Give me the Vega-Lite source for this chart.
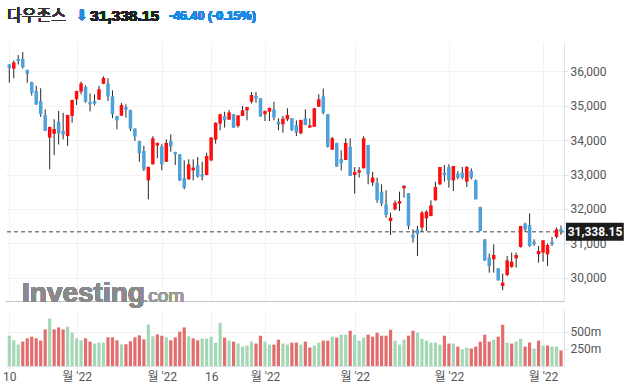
{
  "$schema": "https://vega.github.io/schema/vega-lite/v6.json",
  "background": "#ffffff",
  "padding": {"left": 2, "top": 7, "right": 0, "bottom": 0},
  "spacing": 0,
  "datasets": {
    "d": [
      {"i":0,"o":36190,"h":36200,"l":35660,"c":36090,"v":443,"vd":"u"},
      {"i":1,"o":36068,"h":36310,"l":35790,"c":36250,"v":376,"vd":"u"},
      {"i":2,"o":36350,"h":36460,"l":36190,"c":36290,"v":313,"vd":"u"},
      {"i":3,"o":36350,"h":36550,"l":36070,"c":36115,"v":356,"vd":"d"},
      {"i":4,"o":36030,"h":36040,"l":35660,"c":35920,"v":405,"vd":"d"},
      {"i":5,"o":35680,"h":35690,"l":35290,"c":35370,"v":429,"vd":"d"},
      {"i":6,"o":35420,"h":35570,"l":35020,"c":35030,"v":405,"vd":"d"},
      {"i":7,"o":35130,"h":35500,"l":34670,"c":34745,"v":371,"vd":"d"},
      {"i":8,"o":34725,"h":34890,"l":34260,"c":34265,"v":535,"vd":"d"},
      {"i":9,"o":34068,"h":34390,"l":33150,"c":34377,"v":694,"vd":"u"},
      {"i":10,"o":34180,"h":34600,"l":33560,"c":34320,"v":535,"vd":"d"},
      {"i":11,"o":34530,"h":34840,"l":33870,"c":34190,"v":564,"vd":"d"},
      {"i":12,"o":34260,"h":34790,"l":34020,"c":34165,"v":535,"vd":"d"},
      {"i":13,"o":34115,"h":34735,"l":33830,"c":34725,"v":573,"vd":"u"},
      {"i":14,"o":34700,"h":35170,"l":34500,"c":35160,"v":487,"vd":"u"},
      {"i":15,"o":35180,"h":35430,"l":35015,"c":35420,"v":405,"vd":"u"},
      {"i":16,"o":35400,"h":35690,"l":35325,"c":35640,"v":376,"vd":"u"},
      {"i":17,"o":35535,"h":35585,"l":35080,"c":35110,"v":405,"vd":"d"},
      {"i":18,"o":35100,"h":35350,"l":34830,"c":35035,"v":356,"vd":"d"},
      {"i":19,"o":35130,"h":35320,"l":35005,"c":35050,"v":328,"vd":"u"},
      {"i":20,"o":35170,"h":35565,"l":35160,"c":35470,"v":342,"vd":"u"},
      {"i":21,"o":35630,"h":35845,"l":35620,"c":35800,"v":342,"vd":"u"},
      {"i":22,"o":35640,"h":35790,"l":35130,"c":35265,"v":419,"vd":"d"},
      {"i":23,"o":35265,"h":35440,"l":34630,"c":34745,"v":419,"vd":"d"},
      {"i":24,"o":34695,"h":34700,"l":34310,"c":34570,"v":376,"vd":"d"},
      {"i":25,"o":34705,"h":35075,"l":34700,"c":35015,"v":318,"vd":"u"},
      {"i":26,"o":34955,"h":35035,"l":34650,"c":34880,"v":318,"vd":"d"},
      {"i":27,"o":34870,"h":34880,"l":34260,"c":34330,"v":361,"vd":"d"},
      {"i":28,"o":34330,"h":34340,"l":33970,"c":34100,"v":419,"vd":"d"},
      {"i":29,"o":33970,"h":33980,"l":33370,"c":33615,"v":448,"vd":"d"},
      {"i":30,"o":33680,"h":33830,"l":33100,"c":33150,"v":390,"vd":"d"},
      {"i":31,"o":32830,"h":33230,"l":32280,"c":33220,"v":607,"vd":"u"},
      {"i":32,"o":33295,"h":34110,"l":33290,"c":34050,"v":434,"vd":"u"},
      {"i":33,"o":33840,"h":33925,"l":33470,"c":33915,"v":462,"vd":"d"},
      {"i":34,"o":33815,"h":33875,"l":33120,"c":33295,"v":443,"vd":"d"},
      {"i":35,"o":33370,"h":34020,"l":33360,"c":33915,"v":419,"vd":"u"},
      {"i":36,"o":33970,"h":34165,"l":33660,"c":33810,"v":376,"vd":"d"},
      {"i":37,"o":33650,"h":33660,"l":33275,"c":33585,"v":419,"vd":"d"},
      {"i":38,"o":33585,"h":33590,"l":32810,"c":32830,"v":501,"vd":"d"},
      {"i":39,"o":32890,"h":33410,"l":32570,"c":32620,"v":564,"vd":"d"},
      {"i":40,"o":32860,"h":33440,"l":32850,"c":33295,"v":434,"vd":"u"},
      {"i":41,"o":33120,"h":33440,"l":32830,"c":33200,"v":405,"vd":"d"},
      {"i":42,"o":33265,"h":33510,"l":32910,"c":32940,"v":376,"vd":"d"},
      {"i":43,"o":33005,"h":33372,"l":32831,"c":32938,"v":400,"vd":"u"},
      {"i":44,"o":32985,"h":33630,"l":32975,"c":33535,"v":400,"vd":"u"},
      {"i":45,"o":33410,"h":34080,"l":33390,"c":34070,"v":429,"vd":"u"},
      {"i":46,"o":34010,"h":34510,"l":33895,"c":34500,"v":342,"vd":"u"},
      {"i":47,"o":34475,"h":34760,"l":34280,"c":34745,"v":631,"vd":"u"},
      {"i":48,"o":34695,"h":34820,"l":34360,"c":34570,"v":414,"vd":"d"},
      {"i":49,"o":34590,"h":34870,"l":34580,"c":34800,"v":371,"vd":"u"},
      {"i":50,"o":34745,"h":34750,"l":34350,"c":34360,"v":356,"vd":"d"},
      {"i":51,"o":34405,"h":34720,"l":34360,"c":34715,"v":328,"vd":"u"},
      {"i":52,"o":34695,"h":34985,"l":34690,"c":34860,"v":284,"vd":"u"},
      {"i":53,"o":34860,"h":34965,"l":34570,"c":34955,"v":299,"vd":"u"},
      {"i":54,"o":35110,"h":35390,"l":35060,"c":35305,"v":356,"vd":"u"},
      {"i":55,"o":35275,"h":35390,"l":35080,"c":35200,"v":328,"vd":"d"},
      {"i":56,"o":35210,"h":35215,"l":34670,"c":34680,"v":443,"vd":"d"},
      {"i":57,"o":34745,"h":34850,"l":34550,"c":34840,"v":356,"vd":"u"},
      {"i":58,"o":34820,"h":34940,"l":34550,"c":34930,"v":313,"vd":"u"},
      {"i":59,"o":34890,"h":35110,"l":34570,"c":34650,"v":313,"vd":"d"},
      {"i":60,"o":34530,"h":34630,"l":34280,"c":34445,"v":385,"vd":"d"},
      {"i":61,"o":34455,"h":34695,"l":34210,"c":34620,"v":328,"vd":"u"},
      {"i":62,"o":34600,"h":34920,"l":34550,"c":34725,"v":313,"vd":"u"},
      {"i":63,"o":34630,"h":34635,"l":34260,"c":34290,"v":342,"vd":"d"},
      {"i":64,"o":34435,"h":34570,"l":34115,"c":34215,"v":342,"vd":"d"},
      {"i":65,"o":34195,"h":34590,"l":34165,"c":34580,"v":313,"vd":"u"},
      {"i":66,"o":34630,"h":34890,"l":34430,"c":34435,"v":356,"vd":"d"},
      {"i":67,"o":34360,"h":34620,"l":34355,"c":34425,"v":270,"vd":"d"},
      {"i":68,"o":34385,"h":34930,"l":34380,"c":34920,"v":299,"vd":"u"},
      {"i":69,"o":34965,"h":35325,"l":34960,"c":35180,"v":342,"vd":"u"},
      {"i":70,"o":35265,"h":35490,"l":34745,"c":34790,"v":371,"vd":"d"},
      {"i":71,"o":34750,"h":34755,"l":33780,"c":33805,"v":371,"vd":"d"},
      {"i":72,"o":33720,"h":34090,"l":33715,"c":34050,"v":429,"vd":"u"},
      {"i":73,"o":33915,"h":33920,"l":33220,"c":33230,"v":414,"vd":"d"},
      {"i":74,"o":33450,"h":33700,"l":33120,"c":33325,"v":458,"vd":"u"},
      {"i":75,"o":33420,"h":34050,"l":33415,"c":33915,"v":458,"vd":"u"},
      {"i":76,"o":33800,"h":34050,"l":32955,"c":32960,"v":515,"vd":"d"},
      {"i":77,"o":32985,"h":33215,"l":32445,"c":33070,"v":458,"vd":"u"},
      {"i":78,"o":33055,"h":33215,"l":32910,"c":33120,"v":371,"vd":"u"},
      {"i":79,"o":33180,"h":34110,"l":33175,"c":34050,"v":414,"vd":"u"},
      {"i":80,"o":33855,"h":33860,"l":32715,"c":33005,"v":458,"vd":"d"},
      {"i":81,"o":32765,"h":33075,"l":32670,"c":32910,"v":429,"vd":"d"},
      {"i":82,"o":32763,"h":32908,"l":32180,"c":32251,"v":487,"vd":"d"},
      {"i":83,"o":32500,"h":32715,"l":32087,"c":32155,"v":443,"vd":"d"},
      {"i":84,"o":32135,"h":32541,"l":31750,"c":31826,"v":443,"vd":"d"},
      {"i":85,"o":31652,"h":31894,"l":31246,"c":31749,"v":530,"vd":"d"},
      {"i":86,"o":31990,"h":32251,"l":31961,"c":32183,"v":371,"vd":"u"},
      {"i":87,"o":32155,"h":32502,"l":31942,"c":32232,"v":313,"vd":"u"},
      {"i":88,"o":32599,"h":32695,"l":32329,"c":32667,"v":385,"vd":"u"},
      {"i":89,"o":32454,"h":32460,"l":31411,"c":31507,"v":443,"vd":"d"},
      {"i":90,"o":31247,"h":31411,"l":31024,"c":31169,"v":515,"vd":"d"},
      {"i":91,"o":31411,"h":31507,"l":30638,"c":31266,"v":487,"vd":"u"},
      {"i":92,"o":31459,"h":31942,"l":31343,"c":31894,"v":400,"vd":"u"},
      {"i":93,"o":31730,"h":31961,"l":31363,"c":31923,"v":371,"vd":"u"},
      {"i":94,"o":31797,"h":32251,"l":31790,"c":32106,"v":342,"vd":"u"},
      {"i":95,"o":32251,"h":32792,"l":32245,"c":32637,"v":342,"vd":"u"},
      {"i":96,"o":32715,"h":33220,"l":32700,"c":33217,"v":313,"vd":"u"},
      {"i":97,"o":33053,"h":33275,"l":32792,"c":32985,"v":443,"vd":"d"},
      {"i":98,"o":33217,"h":33294,"l":32618,"c":32831,"v":328,"vd":"d"},
      {"i":99,"o":32831,"h":33250,"l":32522,"c":33246,"v":328,"vd":"u"},
      {"i":100,"o":33024,"h":33101,"l":32860,"c":32908,"v":284,"vd":"d"},
      {"i":101,"o":33053,"h":33217,"l":32860,"c":32908,"v":241,"vd":"u"},
      {"i":102,"o":32792,"h":33246,"l":32637,"c":33217,"v":270,"vd":"u"},
      {"i":103,"o":33101,"h":33178,"l":32860,"c":32908,"v":255,"vd":"d"},
      {"i":104,"o":32831,"h":32860,"l":32275,"c":32280,"v":284,"vd":"d"},
      {"i":105,"o":32058,"h":32065,"l":31355,"c":31362,"v":356,"vd":"d"},
      {"i":106,"o":31121,"h":31125,"l":30493,"c":30512,"v":458,"vd":"d"},
      {"i":107,"o":30590,"h":30706,"l":30155,"c":30348,"v":356,"vd":"d"},
      {"i":108,"o":30541,"h":30976,"l":30155,"c":30667,"v":385,"vd":"u"},
      {"i":109,"o":30281,"h":30285,"l":29925,"c":29933,"v":429,"vd":"d"},
      {"i":110,"o":29768,"h":30126,"l":29643,"c":29865,"v":602,"vd":"d"},
      {"i":111,"o":30087,"h":30638,"l":30058,"c":30512,"v":342,"vd":"u"},
      {"i":112,"o":30319,"h":30735,"l":30300,"c":30474,"v":328,"vd":"d"},
      {"i":113,"o":30570,"h":30735,"l":30300,"c":30667,"v":356,"vd":"u"},
      {"i":114,"o":30899,"h":31510,"l":30880,"c":31507,"v":400,"vd":"u"},
      {"i":115,"o":31575,"h":31604,"l":31343,"c":31411,"v":284,"vd":"d"},
      {"i":116,"o":31536,"h":31874,"l":30899,"c":30928,"v":342,"vd":"d"},
      {"i":117,"o":31053,"h":31121,"l":30928,"c":30976,"v":255,"vd":"u"},
      {"i":118,"o":30686,"h":30928,"l":30445,"c":30783,"v":371,"vd":"d"},
      {"i":119,"o":30735,"h":31095,"l":30474,"c":31092,"v":299,"vd":"u"},
      {"i":120,"o":30686,"h":31000,"l":30348,"c":30957,"v":299,"vd":"d"},
      {"i":121,"o":31044,"h":31189,"l":30928,"c":30976,"v":284,"vd":"u"},
      {"i":122,"o":31189,"h":31459,"l":31150,"c":31411,"v":284,"vd":"u"},
      {"i":123,"o":31420,"h":31520,"l":31250,"c":31338.15,"v":226,"vd":"d"}
    ]
  },
  "config": {
    "view": {"stroke": null},
    "axis": {
      "labelFont": "Roboto, Noto Sans CJK KR",
      "labelColor": "#555555",
      "labelFontSize": 12,
      "gridColor": "#f2f2f2",
      "domainColor": "#dde1e8",
      "tickColor": "#dde1e8",
      "title": null
    },
    "text": {"font": "Roboto, Noto Sans CJK KR"}
  },
  "vconcat": [
    {
      "width": 559,
      "height": 259,
      "data": {"name": "d"},
      "layer": [
        {
          "mark": {"type": "text", "text": "Investing", "align": "left", "baseline": "alphabetic", "fontSize": 28, "fontWeight": "bold", "font": "Liberation Sans", "color": "#8a8a8a"},
          "encoding": {"x": {"datum": 2.83}, "y": {"datum": 29304}}
        },
        {
          "mark": {"type": "text", "text": ".com", "align": "left", "baseline": "alphabetic", "fontSize": 19, "font": "Liberation Sans", "color": "#9a9a9a"},
          "encoding": {"x": {"datum": 29.8}, "y": {"datum": 29304}}
        },
        {
          "mark": {"type": "text", "text": "다우존스", "align": "left", "baseline": "middle", "fontSize": 16, "font": "Noto Sans CJK KR", "color": "#333333"},
          "encoding": {"x": {"datum": -0.5}, "y": {"datum": 37595}}
        },
        {
          "mark": {"type": "text", "text": "⬇", "align": "left", "baseline": "middle", "fontSize": 14, "font": "DejaVu Sans", "color": "#2a87e0"},
          "encoding": {"x": {"datum": 14.9}, "y": {"datum": 37595}}
        },
        {
          "mark": {"type": "text", "text": "31,338.15", "align": "left", "baseline": "middle", "fontSize": 15.5, "fontWeight": "bold", "font": "Liberation Sans", "color": "#222222"},
          "encoding": {"x": {"datum": 18.0}, "y": {"datum": 37595}}
        },
        {
          "mark": {"type": "text", "text": "-46.40 (-0.15%)", "align": "left", "baseline": "middle", "fontSize": 12.5, "fontWeight": "bold", "font": "Liberation Sans", "color": "#1e88e5"},
          "encoding": {"x": {"datum": 35.6}, "y": {"datum": 37595}}
        },
        {
          "transform": [{"filter": "datum.i == 123"}],
          "mark": {"type": "rule", "color": "#444444", "strokeDash": [4, 3], "strokeWidth": 1},
          "encoding": {"y": {"field": "c", "type": "quantitative"}}
        },
        {
          "mark": {"type": "rule", "color": "#262626", "strokeWidth": 1},
          "encoding": {
            "x": {"field": "i", "type": "quantitative",
              "scale": {"domain": [-0.96, 123.67], "nice": false, "zero": false, "padding": 0},
              "axis": {"values": [0, 15, 34, 45, 57, 77, 98, 119], "labels": false, "ticks": false, "grid": true, "domainColor": "#c4c4c4", "domainWidth": 1}},
            "y": {"field": "l", "type": "quantitative",
              "scale": {"domain": [29333, 36841], "nice": false, "zero": false, "padding": 0},
              "axis": {"orient": "right", "values": [30000, 31000, 32000, 33000, 34000, 35000, 36000], "labelExpr": "format(datum.value, ',')", "tickSize": 4, "labelPadding": 2, "grid": true}},
            "y2": {"field": "h"}
          }
        },
        {
          "mark": {"type": "bar", "size": 3.5},
          "encoding": {
            "x": {"field": "i", "type": "quantitative"},
            "y": {"field": "o", "type": "quantitative"},
            "y2": {"field": "c"},
            "color": {"condition": {"test": "datum.c >= datum.o", "value": "#ff0d0d"}, "value": "#4ea1db"}
          }
        },
        {
          "transform": [{"filter": "datum.i == 123"}],
          "mark": {"type": "rule", "color": "#1c1c1c", "strokeWidth": 18},
          "encoding": {
            "x": {"datum": 124.1},
            "x2": {"datum": 137.0},
            "y": {"field": "c", "type": "quantitative"}
          }
        },
        {
          "transform": [{"filter": "datum.i == 123"}],
          "mark": {"type": "text", "align": "left", "baseline": "middle", "fontSize": 12, "fontWeight": "bold", "font": "Roboto", "color": "#ffffff"},
          "encoding": {
            "x": {"datum": 124.5},
            "y": {"field": "c", "type": "quantitative"},
            "text": {"field": "c", "type": "quantitative", "format": ",.2f"}
          }
        }
      ]
    },
    {
      "width": 559,
      "height": 57,
      "data": {"name": "d"},
      "view": {"fill": "#ffffff", "stroke": null},
      "mark": {"type": "bar", "size": 3.2},
      "encoding": {
        "x": {"field": "i", "type": "quantitative",
          "scale": {"domain": [-0.96, 123.67], "nice": false, "zero": false, "padding": 0},
          "axis": {"values": [0, 15, 34, 45, 57, 77, 98, 119], "labelExpr": "datum.value == 0 ? '10' : datum.value == 45 ? '16' : \"월 '22\"", "grid": true, "tickSize": 3, "labelPadding": 2}},
        "y": {"field": "v", "type": "quantitative",
          "scale": {"domain": [0, 833], "nice": false, "padding": 0},
          "axis": {"orient": "right", "values": [250, 500], "labelExpr": "datum.value + 'm'", "tickSize": 4, "labelPadding": 2, "grid": true}},
        "color": {"field": "vd", "type": "nominal", "scale": {"domain": ["u", "d"], "range": ["#a4d7b6", "#e36d6d"]}, "legend": null}
      }
    }
  ]
}
